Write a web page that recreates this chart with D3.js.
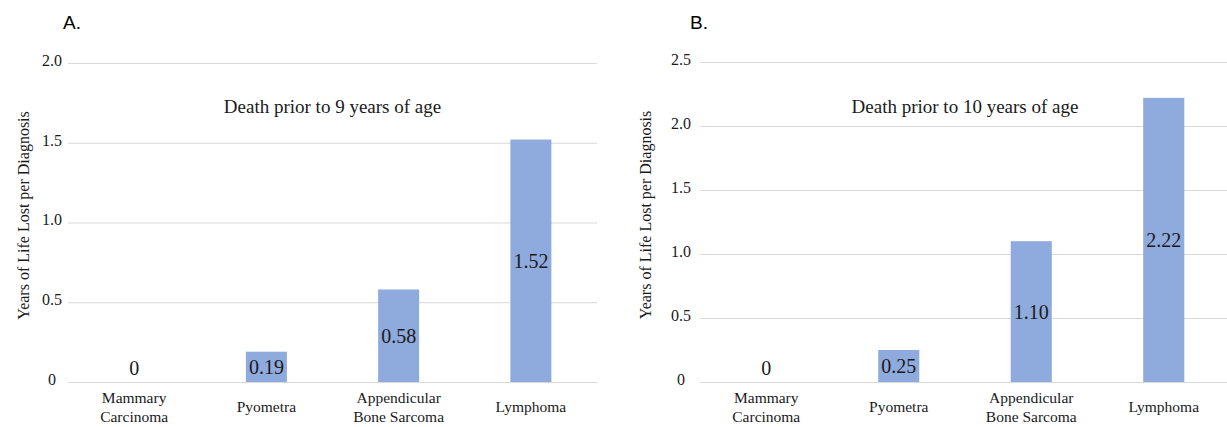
<!DOCTYPE html>
<html>
<head>
<meta charset="utf-8">
<script src="https://cdn.jsdelivr.net/npm/d3@7"></script>
<style>
  html, body { margin: 0; padding: 0; background: #ffffff; }
  svg { display: block; }
</style>
</head>
<body>
<svg id="chart" width="1227" height="427"></svg>
<script>
// ---------- data ----------
const categories = ["Mammary Carcinoma", "Pyometra", "Appendicular Bone Sarcoma", "Lymphoma"];
const categoryLines = [["Mammary", "Carcinoma"], ["Pyometra"], ["Appendicular", "Bone Sarcoma"], ["Lymphoma"]];

const valuesA = [0, 0.19, 0.58, 1.52];
const valueLabelsA = ["0", "0.19", "0.58", "1.52"];
const ticksA = [0, 0.5, 1.0, 1.5, 2.0];
const tickLabelsA = ["0", "0.5", "1.0", "1.5", "2.0"];

const valuesB = [0, 0.25, 1.10, 2.22];
const valueLabelsB = ["0", "0.25", "1.10", "2.22"];
const ticksB = [0, 0.5, 1.0, 1.5, 2.0, 2.5];
const tickLabelsB = ["0", "0.5", "1.0", "1.5", "2.0", "2.5"];

const panelLetters = ["A.", "B."];
const chartTitles = ["Death prior to 9 years of age", "Death prior to 10 years of age"];
const yAxisTitle = "Years of Life Lost per Diagnosis";

// ---------- drawing ----------
const svg = d3.select("#chart");
const serif = "'Liberation Serif', 'Times New Roman', serif";
const textColor = "#1a1a1a";
const barColor = "#8faadc";
const gridColor = "#d9d9d9";

const panels = [
  { values: valuesA, vlabels: valueLabelsA, ticks: ticksA, tlabels: tickLabelsA,
    letter: panelLetters[0], title: chartTitles[0],
    left: 68, right: 597, top: 63, bottom: 382, tickX: 52, axisTitleX: 23, letterX: 63, clipRight: 1227 },
  { values: valuesB, vlabels: valueLabelsB, ticks: ticksB, tlabels: tickLabelsB,
    letter: panelLetters[1], title: chartTitles[1],
    left: 700, right: 1230, top: 62, bottom: 382, tickX: 681, axisTitleX: 645, letterX: 690, clipRight: 1227 }
];

panels.forEach(p => {
  const g = svg.append("g");
  const x = d3.scaleBand().domain(categories).range([p.left, p.right])
    .paddingInner(0.69).paddingOuter(0.345);
  const yMax = p.ticks[p.ticks.length - 1];
  const y = d3.scaleLinear().domain([0, yMax]).range([p.bottom, p.top]);
  const w = Math.min(p.right, p.clipRight) - p.left;

  // gridlines + tick labels
  const yAxis = d3.axisLeft(y).tickValues(p.ticks).tickSize(-w)
    .tickFormat((d, i) => p.tlabels[i]);
  const ay = g.append("g").attr("transform", `translate(${p.left},0)`).call(yAxis);
  ay.select(".domain").remove();
  ay.selectAll(".tick line").attr("stroke", gridColor).attr("stroke-width", 1);
  ay.selectAll(".tick text")
    .attr("x", p.tickX - p.left)
    .attr("dy", "0.15em")
    .attr("text-anchor", "middle")
    .attr("fill", textColor)
    .style("font-family", serif)
    .style("font-size", "16px");

  // bars
  g.selectAll("rect.bar").data(p.values).join("rect")
    .attr("class", "bar")
    .attr("x", (d, i) => x(categories[i]))
    .attr("width", x.bandwidth())
    .attr("y", d => y(d))
    .attr("height", d => y(0) - y(d))
    .attr("fill", barColor);

  // value labels
  g.selectAll("text.vlabel").data(p.values).join("text")
    .attr("class", "vlabel")
    .attr("x", (d, i) => x(categories[i]) + x.bandwidth() / 2)
    .attr("y", d => Math.min(y(d / 2), y(0) - 14))
    .attr("dy", "0.35em")
    .attr("text-anchor", "middle")
    .attr("fill", textColor)
    .style("font-family", serif)
    .style("font-size", "20px")
    .text((d, i) => p.vlabels[i]);

  // category labels
  const xAxis = d3.axisBottom(x).tickSize(0).tickFormat("");
  const ax = g.append("g").attr("transform", `translate(0,${p.bottom})`).call(xAxis);
  ax.select(".domain").remove();
  ax.selectAll(".tick").each(function(d, i) {
    const lines = categoryLines[i];
    const t = d3.select(this).append("text")
      .attr("text-anchor", "middle")
      .attr("fill", textColor)
      .style("font-family", serif)
      .style("font-size", "15.5px");
    const baseY = lines.length === 1 ? 30 : 21;
    lines.forEach((ln, k) => {
      t.append("tspan").attr("x", 0).attr("y", baseY + k * 19).text(ln);
    });
  });

  // chart title
  g.append("text")
    .attr("x", (p.left + p.right) / 2)
    .attr("y", 113)
    .attr("text-anchor", "middle")
    .attr("fill", textColor)
    .style("font-family", serif)
    .style("font-size", "19px")
    .text(p.title);

  // y-axis title
  g.append("text")
    .attr("transform", `translate(${p.axisTitleX},${(p.top + p.bottom) / 2 - 7}) rotate(-90)`)
    .attr("dy", "0.35em")
    .attr("text-anchor", "middle")
    .attr("fill", textColor)
    .style("font-family", serif)
    .style("font-size", "16px")
    .text(yAxisTitle);

  // panel letter
  g.append("text")
    .attr("x", p.letterX)
    .attr("y", 29)
    .attr("fill", "#000")
    .style("font-family", "'Liberation Sans', Arial, sans-serif")
    .style("font-size", "19px")
    .text(p.letter);
});
</script>
</body>
</html>
